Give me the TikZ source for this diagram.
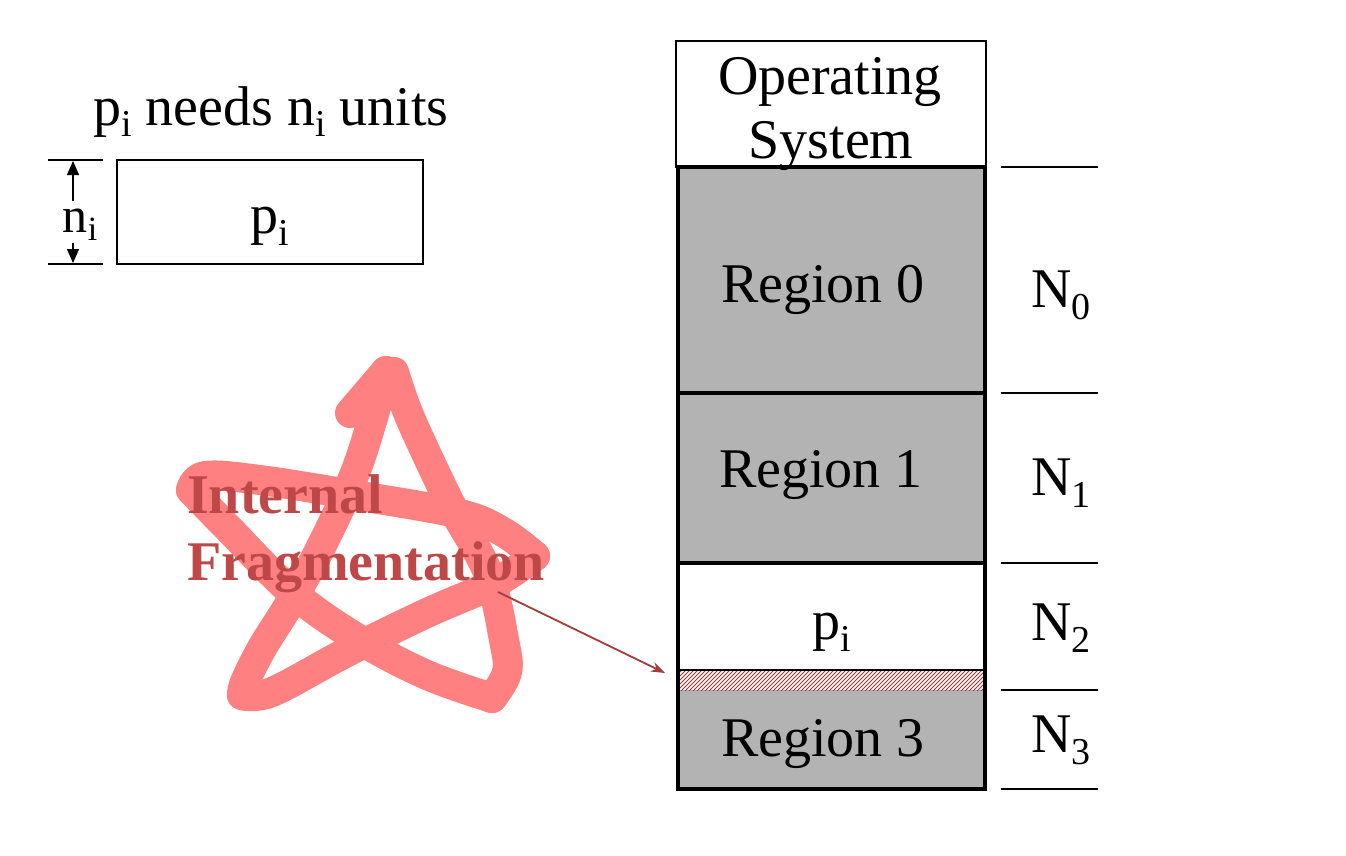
\documentclass[tikz,border=0pt]{standalone}
\usepackage{fontspec}
\setmainfont{Liberation Serif}
\usetikzlibrary{arrows.meta}
\newcommand\subsc[3]{\raisebox{-#1pt}{\fontsize{#2pt}{#2pt}\selectfont #3}}
\definecolor{regiongray}{RGB}{179,179,179}
\definecolor{starpink}{RGB}{255,128,128}
\definecolor{fragred}{RGB}{190,72,72}
\definecolor{arrowred}{RGB}{165,60,60}
\definecolor{hatchred}{RGB}{160,55,55}
\begin{document}
\begin{tikzpicture}[x=1pt,y=-1pt,
  big/.style={font=\fontsize{56pt}{62pt}\selectfont, inner sep=0pt, anchor=base},
  mid/.style={font=\fontsize{50pt}{54pt}\selectfont, inner sep=0pt, anchor=base},
  thinline/.style={line width=1.3pt},
  thickline/.style={line width=4pt},
  dimarrow/.style={thinline, -{Triangle[length=14pt,width=12pt]}},
  starline/.style={draw=starpink, line width=30pt, line cap=round, line join=round},
  fragtext/.style={font=\fontsize{56pt}{60pt}\selectfont\bfseries, text=fragred, inner sep=0pt, anchor=base west},
  ]
\path[use as bounding box, fill=white] (0,0) rectangle (1346,856);

% ---------- memory column ----------
\fill[regiongray] (678,167) rectangle (985,393);
\fill[regiongray] (678,393) rectangle (985,563);
\fill[regiongray] (678,690) rectangle (985,789);
\begin{scope}
  \clip (680,671) rectangle (984,690);
  \foreach \k in {0,...,85} \draw[hatchred, line width=0.9pt] (655+4*\k,693) -- (679+4*\k,669);
\end{scope}
\draw[line width=1.5pt] (676,41) rectangle (986,167);
\draw[thickline] (678,167) rectangle (985,789);
\draw[thickline] (678,393) -- (985,393);
\draw[thickline] (678,563) -- (985,563);
\draw[line width=1.5pt] (678,670) -- (985,670);

\foreach \yy in {167,393,563,690,789} \draw[thinline] (1001,\yy) -- (1098,\yy);

\node[big] (os1) at (830,95) {Operating};
\node[big] (os2) at (831,158) {System};
\node[big] (r0) at (823,302) {Region 0};
\node[big] (r1) at (821,487) {Region 1};
\node[big] (pm) at (832,639) {p\subsc{12}{38}{i}};
\node[big] (r3) at (823,756) {Region 3};

\node[big, anchor=base west] (n0) at (1031,307) {N\subsc{12}{38}{0}};
\node[big, anchor=base west] (n1) at (1031,495) {N\subsc{12}{38}{1}};
\node[big, anchor=base west] (n2) at (1031,640) {N\subsc{12}{38}{2}};
\node[big, anchor=base west] (n3) at (1031,752) {N\subsc{12}{38}{3}};

% ---------- top left ----------
\node[big] (need) at (271,125) {p\subsc{12}{38}{i} needs n\subsc{12}{38}{i} units};
\draw[thinline] (117,160) rectangle (423,264);
\node[big] (pbox) at (270,233) {p\subsc{12}{38}{i}};
\draw[thinline] (48,160) -- (103,160);
\draw[thinline] (48,264) -- (103,264);
\node[mid] (ni) at (80,232) {n\subsc{8}{34}{i}};
\coordinate (nitop) at (73,161);
\coordinate (nibot) at (73,263);
\coordinate (niup) at (73,201);
\coordinate (nidown) at (73,243);
\draw[dimarrow] (niup) -- (nitop);
\draw[dimarrow] (nidown) -- (nibot);

% ---------- star ----------
\draw[starline] (350,413) -- (386,371);
\draw[starline] plot[smooth, tension=0.6] coordinates {(386,371) (358,465) (322,545) (290,603) (262,648) (245,682) (242,695)};
\draw[starline] plot[smooth, tension=0.6] coordinates {(242,695) (272,692) (347,652) (427,613) (495,583) (535,556)};
\draw[starline] plot[smooth, tension=0.6] coordinates {(535,556) (503,532) (460,514) (360,496) (260,480) (205,476) (191,490)};
\draw[starline] plot[smooth, tension=0.6] coordinates {(191,490) (227,527) (293,593) (360,640) (427,675) (492,698)};
\draw[starline] plot[smooth, tension=0.6] coordinates {(492,698) (507,672) (504,640) (488,573) (452,507) (420,440) (405,405) (394,372)};

\node[fragtext] (frag1) at (187,513) {Internal};
\node[fragtext] (frag2) at (187,580) {Fragmentation};
\coordinate (fragtail) at (498,592);
\coordinate (hatchw) at (665,673);
\draw[arrowred, line width=1.8pt, -{Stealth[length=14pt,width=10pt]}] (fragtail) -- (hatchw);
\end{tikzpicture}
\end{document}
